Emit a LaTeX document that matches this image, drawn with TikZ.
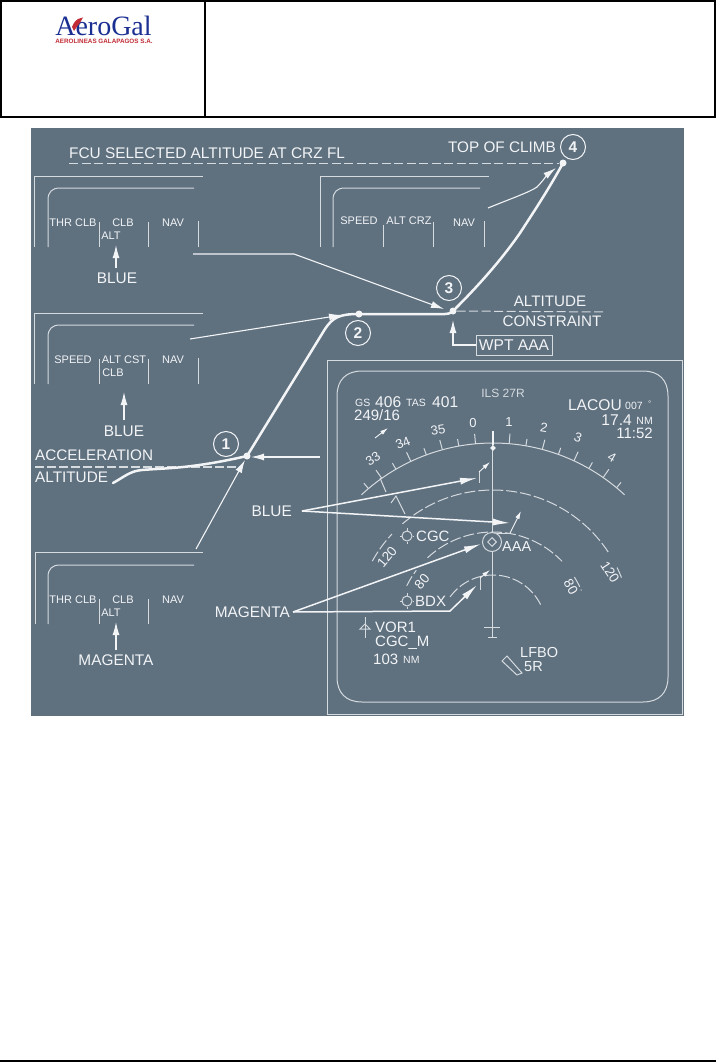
\documentclass[tikz,border=0pt]{standalone}
\usepackage{fontspec}
\setmainfont{Liberation Sans}
\newfontfamily\logoserif{Liberation Serif}
\usetikzlibrary{arrows.meta,shapes.geometric}
\definecolor{panelbg}{HTML}{5F707F}
\definecolor{txtc}{HTML}{F2F4F6}
\definecolor{linec}{HTML}{D5DBDF}
\definecolor{logoblue}{HTML}{1B2F92}
\definecolor{logored}{HTML}{C22B35}
\tikzset{
 x=1pt,y=-1pt,
 lab/.style={font=\fontsize{#1}{#1}\selectfont,inner sep=0pt,text=txtc},
 lw/.style={lab=#1,anchor=west},
 le/.style={lab=#1,anchor=east},
 ln/.style={draw=linec,line width=1pt},
 wl/.style={draw=txtc,line width=1.1pt},
 arw/.style={wl,-{Latex[length=13pt,width=7pt]}},
 arwb/.style={draw=txtc,line width=1.5pt,-{Latex[length=17pt,width=7pt]}},
 arws/.style={draw=txtc,line width=0.9pt,-{Latex[length=8pt,width=4.5pt]}},
 dsh/.style={draw=linec,line width=1pt,dash pattern=on 9pt off 3.5pt},
 rdash/.style={draw=linec,line width=1pt,dash pattern=on 11pt off 3pt},
 numc/.style={circle,draw=txtc,line width=1pt,minimum size=25pt,inner sep=0pt,text=txtc,font=\bfseries\fontsize{15.5}{15.5}\selectfont},
 dotn/.style={circle,fill=txtc,minimum size=7pt,inner sep=0pt},
 pathc/.style={draw=txtc,line width=2.5pt,line cap=round,line join=round},
 wptc/.style={circle,draw=linec,line width=1pt,inner sep=0pt,minimum size=#1},
 dmd/.style={diamond,draw=linec,line width=1pt,inner sep=0pt,minimum size=#1},
}
\begin{document}
\begin{tikzpicture}
\useasboundingbox (0,0) rectangle (716,1062);
\fill[white] (0,0) rectangle (716,1062);
% header
\draw[black,line width=2pt] (1,1) rectangle (715,117);
\draw[black,line width=2pt] (205,1) -- (205,117);
\draw[black,line width=1.5pt] (0,1061) -- (716,1061);
% logo
\node[inner sep=0pt,text=logoblue,font=\logoserif\fontsize{28}{28}\selectfont] (logo) at (103.5,26) {AeroGal};
\node[inner sep=0pt,text=logored,font=\bfseries\fontsize{6.3}{6.5}\selectfont] (logosub) at (104,41) {AEROLINEAS GALAPAGOS S.A.};
\fill[logored] (72,27) .. controls (74,22) and (76,20) .. (78,19) -- (83,17.5) -- (81,21) -- (79,24) -- (76,28) -- (74,31) -- cycle;
% panel
\fill[panelbg] (31,128) rectangle (684,716);

% FMA panels
\draw[ln] (203,176) -- (34,176) -- (34,247);
\draw[ln] (48,247) -- (48,200) .. controls (48,192) and (52,188) .. (60,188) -- (194,188);
\draw[ln] (99,222) -- (99,247) (148,222) -- (148,247) (198,221) -- (198,247);
\node[lab=11] (a1) at (73,223) {THR CLB};
\node[lab=11] (a2) at (123,223) {CLB};
\node[lab=11] (a3) at (173,223) {NAV};
\node[lab=11] (a4) at (111,236) {ALT};
\node[lab=15.4] (blueA) at (117,278) {BLUE};
\coordinate (blueAtip) at (116,245);
\draw[arw] (116,268) -- (blueAtip);

\draw[ln] (203,313) -- (34,313) -- (34,384);
\draw[ln] (48,384) -- (48,337) .. controls (48,329) and (52,325) .. (60,325) -- (194,325);
\draw[ln] (99,359) -- (99,384) (148,359) -- (148,384) (198,358) -- (198,384);
\node[lab=11] (b1) at (73,360) {SPEED};
\node[lab=11] (b2) at (124,360) {ALT CST};
\node[lab=11] (b3) at (173,360) {NAV};
\node[lab=11] (b4) at (113,373) {CLB};
\node[lab=15.4] (blueB) at (124,431) {BLUE};
\coordinate (blueBtip) at (124,392);
\draw[arw] (124,420) -- (blueBtip);

\draw[ln] (203,552) -- (35,552) -- (35,624);
\draw[ln] (48,624) -- (48,577) .. controls (48,569) and (52,565) .. (60,565) -- (194,565);
\draw[ln] (99,599) -- (99,624) (148,599) -- (148,624);
\node[lab=11] (c1) at (73,600) {THR CLB};
\node[lab=11] (c2) at (123,600) {CLB};
\node[lab=11] (c3) at (173,600) {NAV};
\node[lab=11] (c4) at (111,613) {ALT};
\node[lab=15.4] (magC) at (116,660) {MAGENTA};
\coordinate (magCtip) at (116,622);
\draw[arw] (116,650) -- (magCtip);

\draw[ln] (489,176) -- (320,176) -- (320,247);
\draw[ln] (333,247) -- (333,200) .. controls (333,192) and (337,188) .. (345,188) -- (480,188);
\draw[ln] (383,225) -- (383,247) (433,222) -- (433,247) (484,221) -- (484,247);
\node[lab=11] (d1) at (359,221) {SPEED};
\node[lab=11] (d2) at (409,221) {ALT CRZ};
\node[lab=11] (d3) at (464,223) {NAV};

% dashed levels
\node[lw=15.4] (fcu) at (69,153) {FCU SELECTED ALTITUDE AT CRZ FL};
\coordinate (fcuL) at (69,163);
\coordinate (altR) at (605,312);
\coordinate (accL) at (35,467);
\coordinate (accR) at (240,467);

% flight path dots
\node[dotn] (p1) at (247,456) {};
\node[dotn] (p2) at (359,314) {};
\node[dotn] (p3) at (453,311) {};
\node[dotn] (p4) at (563,163) {};

\draw[dsh] (fcuL) -- (p4);
\draw[dsh] (p3) -- (altR);
\draw[draw=linec,line width=1.4pt,dash pattern=on 9pt off 3pt] (accL) -- (accR);

\draw[pathc] (113,483) .. controls (124,477) and (130,471) .. (142,470) .. controls (165,468) and (190,469) .. (p1.center)
  -- (325,329) .. controls (333,317) and (340,314) .. (p2.center) -- (445,314) .. controls (450,314) and (453,312) .. (456,308)
  .. controls (475,289) and (500,262) .. (520,233) .. controls (535,210) and (550,187) .. (p4.center);

\node[numc] (n1) at (226,444) {1};
\node[numc] (n2) at (358,333) {2};
\node[numc] (n3) at (449,288) {3};
\node[numc] (n4) at (573,147) {4};

\node[lab=15.3] (toc) at (502,147) {TOP OF CLIMB};
\node[lab=15.2] (alt1) at (550,301) {ALTITUDE};
\node[lab=15.2] (alt2) at (552,321) {CONSTRAINT};
\node[lw=15.3] (acc1) at (35,455) {ACCELERATION};
\node[lw=15.3] (acc2) at (35,477) {ALTITUDE};
\node[lab=15.6,draw=linec,line width=1pt,minimum width=76pt,minimum height=20pt] (wpt) at (514,345) {WPT AAA};

% connectors
\coordinate (s1) at (193,254);
\coordinate (s1k) at (294,254);
\coordinate (s2) at (190,339);
\coordinate (s3) at (196,549);
\coordinate (s4) at (320,457);
\coordinate (s5) at (488,208);
\draw[arw] (s1) -- (s1k) -- (444,309);
\draw[arw] (s2) -- (342,315);
\draw[arw] (s3) -- (245,460);
\draw[arw] (s4) -- (251,457);
\draw[arw] (s5) .. controls (510,199) and (530,192) .. (537,187) .. controls (542,182) and (548,174) .. (556,168);
\draw[arw] (wpt.west) -- (453,345) -- (453,320);

% ND
\draw[ln] (327,360) rectangle (682,714);
\draw[ln] (337,396) .. controls (337,380) and (346,371) .. (362,371) -- (643,371) .. controls (659,371) and (668,380) .. (668,396)
 -- (668,677) .. controls (668,693) and (659,702) .. (643,702) -- (362,702) .. controls (346,702) and (337,693) .. (337,677) -- cycle;

\node[lw=10.5] (gs1) at (355,402.5) {GS};
\node[lw=15.6] (gs2) at (375,402) {406};
\node[lw=10.5] (gs3) at (406,402.5) {TAS};
\node[lw=15.6] (gs4) at (432,402) {401};
\node[lw=15] (wind) at (354,415) {249/16};
\draw[arws] (375,438) -- (388,428);
\node[lab=12,text=linec] (ils) at (503,393) {ILS 27R};
\node[le=15.6] (la1) at (622,405) {LACOU};
\node[lw=10.5] (la2) at (625,406) {007};
\node[lw=8] (la3) at (648,404) {°};
\node[le=10.5] (nm1) at (653,421) {NM};
\node[le=15.6] (nm2) at (632,420) {17.4};
\node[le=15] (tm) at (653,433) {11:52};

% compass arc
\draw[ln,domain=-43:43,samples=60] plot ({493+193*sin(\x)},{636-193*cos(\x)});
\foreach \a in {-35.2,-25.2,-15.2,-5.2,4.8,14.8,24.8,34.8} {
  \draw[ln] ({493+193*sin(\a)},{636-193*cos(\a)}) -- ({493+203*sin(\a)},{636-203*cos(\a)});
}
\foreach \a in {-40.2,-30.2,-20.2,-10.2,9.8,19.8,29.8,39.8} {
  \draw[ln] ({493+193*sin(\a)},{636-193*cos(\a)}) -- ({493+200*sin(\a)},{636-200*cos(\a)});
}
\node[lab=13] (h0) at (473,423) {0};
\node[lab=13] (h1) at (509,422) {1};
\node[lab=13,rotate=-10] (h2) at (544,428) {2};
\node[lab=13,rotate=-20] (h3) at (578,438) {3};
\node[lab=13,rotate=-30] (h4) at (612,457) {4};
\node[lab=13,rotate=10] (h35) at (438,430) {35};
\node[lab=13,rotate=22] (h34) at (403,443) {34};
\node[lab=13,rotate=33] (h33) at (373,459) {33};
\draw[ln] (380,478) -- (386,492);
\draw[ln] (391,503) -- (396,496) -- (405,514);

% range arcs
\draw[rdash,domain=-61:-47,samples=20] plot ({493+138*sin(\x)},{628-138*cos(\x)});
\draw[rdash,domain=-41:57,samples=60] plot ({493+138*sin(\x)},{628-138*cos(\x)});
\draw[rdash,domain=64:69,samples=10] plot ({493+138*sin(\x)},{628-138*cos(\x)});
\draw[rdash,domain=-43:46,samples=60] plot ({493+96*sin(\x)},{628-96*cos(\x)});
\draw[rdash,domain=58:67,samples=10] plot ({493+96*sin(\x)},{628-96*cos(\x)});
\draw[rdash,domain=-64:-53,samples=20] plot ({493+96*sin(\x)},{628-96*cos(\x)});
\draw[rdash,domain=-54:67,samples=40] plot ({493+53*sin(\x)},{628-53*cos(\x)});
\node[lab=13.5,rotate=50] (r120l) at (387,557) {120};
\node[lab=13.5,rotate=-57] (r120r) at (610,572) {120};
\node[lab=13.5,rotate=50] (r80l) at (422,582) {80};
\node[lab=13.5,rotate=-60] (r80r) at (571,587) {80};

% centre line and aircraft
\draw[ln] (492,445) -- (492,638);
\draw[wl] (493,431) -- (493,445);
\node[diamond,fill=txtc,minimum size=6pt,inner sep=0pt] (lub) at (493,448) {};
\draw[ln] (484,627) -- (500,627) (488,637) -- (497,637);

% tracks
\draw[ln] (479,483) -- (479,472);
\draw[arws] (479,472) -- (490,462);
\draw[ln] (497,533) -- (510,533);
\draw[arws] (510,533) -- (521,511);
\draw[ln] (480,590) -- (480,578);
\draw[arws] (480,578) -- (490,570);

% waypoints
\node[wptc=19pt,fill=panelbg] (aaa) at (492,542) {};
\node[dmd=9pt] (aaad) at (492,542) {};
\draw[ln] (492,530) -- (aaa.north);
\node[lw=14.5] (aaat) at (502,547) {AAA};
\node[wptc=10pt,fill=panelbg] (cgc) at (407,536) {};
\draw[ln] (407,528) -- (cgc.north) (cgc.south) -- (407,544) (400,536) -- (cgc.west) (cgc.east) -- (414,536);
\node[lw=15] (cgct) at (416,536) {CGC};
\node[wptc=10pt,fill=panelbg] (bdx) at (407,601) {};
\draw[ln] (407,593) -- (bdx.north) (bdx.south) -- (407,609) (400,601) -- (bdx.west) (bdx.east) -- (414,601);
\node[lw=15] (bdxt) at (415,601) {BDX};

% BLUE / MAGENTA labels with arrows
\node[le=15.4] (blueL) at (292,511) {BLUE};
\node[le=15.4] (magL) at (290,612) {MAGENTA};
\draw[arwb] (blueL.east) ++(10,0) -- (477,478);
\draw[arwb] (blueL.east) ++(10,0) -- (510,523);
\draw[arwb] (magL.east) ++(3,0) -- (481,544);
\draw[arwb] (magL.east) ++(3,0) -- (450,611) -- (477,585);

% VOR block
\draw[ln] (365,617) -- (365,638);
\draw[ln] (360,629) -- (365,624) -- (370,629) -- cycle;
\node[lw=15] (vor) at (375,627) {VOR1};
\node[lw=15] (cgcm) at (375,643) {CGC\_M};
\node[lw=15] (dist) at (373,659) {103};
\node[lw=10.5] (distnm) at (403,660) {NM};

% runway
\draw[ln] (507,656) -- (522,673) -- (517,675) -- (502,661) -- cycle;
\node[lw=14.5] (lfbo) at (520,653) {LFBO};
\node[lw=14.5] (rwy) at (524,667) {5R};
\end{tikzpicture}
\end{document}
